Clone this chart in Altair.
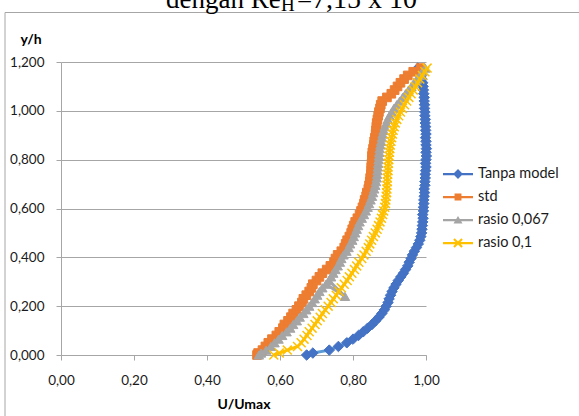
import altair as alt
import pandas as pd

# ---------------- data ----------------
series_names = ["Tanpa model", "std", "rasio 0,067", "rasio 0,1"]

y_grid = [0.000, 0.008, 0.020, 0.035, 0.050, 0.065, 0.080, 0.095, 0.110, 0.125,
          0.140, 0.155, 0.170, 0.185, 0.200, 0.215, 0.230, 0.245, 0.260, 0.275,
          0.290, 0.305, 0.320, 0.335, 0.350, 0.365, 0.380, 0.395, 0.410, 0.425,
          0.440, 0.455, 0.470, 0.485, 0.500, 0.515, 0.530, 0.545, 0.560, 0.575,
          0.590, 0.605, 0.620, 0.635, 0.650, 0.665, 0.680, 0.695, 0.710, 0.725,
          0.740, 0.755, 0.770, 0.785, 0.800, 0.815, 0.830, 0.845, 0.860, 0.875,
          0.890, 0.905, 0.920, 0.935, 0.950, 0.965, 0.980, 0.995, 1.010, 1.025,
          1.040, 1.055, 1.070, 1.085, 1.100, 1.115, 1.130, 1.145, 1.160, 1.175]

tanpa_x = [0.673, 0.690, 0.735, 0.760, 0.783, 0.800, 0.815, 0.828, 0.840, 0.852,
           0.862, 0.871, 0.879, 0.886, 0.891, 0.896, 0.899, 0.903, 0.907, 0.912,
           0.918, 0.924, 0.931, 0.938, 0.944, 0.950, 0.954, 0.959, 0.963, 0.968,
           0.974, 0.979, 0.983, 0.986, 0.988, 0.989, 0.990, 0.991, 0.992, 0.991,
           0.993, 0.993, 0.994, 0.994, 0.995, 0.996, 0.995, 0.997, 0.997, 0.998,
           0.998, 0.999, 1.000, 0.999, 1.000, 1.001, 1.000, 1.001, 1.000, 1.000,
           0.999, 1.000, 0.999, 0.999, 0.998, 0.998, 0.997, 0.997, 0.996, 0.996,
           0.995, 0.995, 0.994, 0.993, 0.992, 0.991, 0.989, 0.987, 0.984, 0.978]

std_x = [0.537, 0.540, 0.552, 0.560, 0.568, 0.578, 0.590, 0.598, 0.608, 0.612,
         0.622, 0.630, 0.636, 0.645, 0.652, 0.660, 0.664, 0.672, 0.680, 0.686,
         0.690, 0.700, 0.708, 0.716, 0.728, 0.738, 0.748, 0.752, 0.758, 0.768,
         0.776, 0.780, 0.784, 0.790, 0.795, 0.798, 0.802, 0.806, 0.812, 0.818,
         0.822, 0.826, 0.830, 0.832, 0.836, 0.838, 0.842, 0.844, 0.846, 0.847,
         0.849, 0.850, 0.850, 0.851, 0.852, 0.852, 0.853, 0.855, 0.857, 0.858,
         0.860, 0.862, 0.863, 0.864, 0.865, 0.867, 0.869, 0.871, 0.874, 0.876,
         0.880, 0.893, 0.905, 0.914, 0.922, 0.930, 0.940, 0.950, 0.965, 0.985]

r067_y = [0.000, 0.008, 0.020, 0.035, 0.050, 0.065, 0.080, 0.095, 0.110, 0.125,
          0.140, 0.155, 0.170, 0.185, 0.200, 0.215, 0.230, 0.245, 0.260, 0.275,
          0.290, 0.240, 0.305, 0.320, 0.335, 0.350, 0.365, 0.380, 0.395, 0.410,
          0.425, 0.440, 0.455, 0.470, 0.485, 0.500, 0.515, 0.530, 0.545, 0.560,
          0.575, 0.590, 0.605, 0.620, 0.635, 0.650, 0.665, 0.680, 0.695, 0.710,
          0.725, 0.740, 0.755, 0.770, 0.785, 0.800, 0.815, 0.830, 0.845, 0.860,
          0.875, 0.890, 0.905, 0.920, 0.935, 0.950, 0.965, 0.980, 0.995, 1.010,
          1.025, 1.040, 1.055, 1.070, 1.085, 1.100, 1.115, 1.130, 1.145, 1.160,
          1.175]

r067_x = [0.542, 0.548, 0.562, 0.575, 0.585, 0.596, 0.606, 0.618, 0.628, 0.636,
          0.646, 0.654, 0.664, 0.672, 0.680, 0.688, 0.695, 0.702, 0.708, 0.716,
          0.726, 0.778, 0.734, 0.740, 0.746, 0.752, 0.758, 0.764, 0.768, 0.774,
          0.782, 0.788, 0.792, 0.798, 0.802, 0.806, 0.810, 0.814, 0.818, 0.824,
          0.830, 0.835, 0.840, 0.844, 0.848, 0.852, 0.855, 0.858, 0.861, 0.863,
          0.865, 0.866, 0.867, 0.868, 0.869, 0.870, 0.871, 0.872, 0.873, 0.875,
          0.877, 0.879, 0.881, 0.884, 0.887, 0.891, 0.895, 0.900, 0.906, 0.912,
          0.920, 0.928, 0.936, 0.944, 0.952, 0.960, 0.967, 0.975, 0.983, 0.990,
          0.998]

r01_x = [0.583, 0.598, 0.620, 0.648, 0.658, 0.666, 0.674, 0.680, 0.688, 0.696,
         0.702, 0.710, 0.716, 0.724, 0.732, 0.740, 0.746, 0.754, 0.762, 0.768,
         0.776, 0.784, 0.790, 0.797, 0.804, 0.810, 0.816, 0.824, 0.830, 0.836,
         0.842, 0.846, 0.851, 0.856, 0.861, 0.866, 0.870, 0.874, 0.878, 0.881,
         0.884, 0.887, 0.889, 0.890, 0.891, 0.892, 0.893, 0.893, 0.894, 0.894,
         0.895, 0.896, 0.896, 0.897, 0.898, 0.899, 0.900, 0.901, 0.902, 0.904,
         0.906, 0.908, 0.910, 0.913, 0.916, 0.920, 0.925, 0.930, 0.935, 0.941,
         0.947, 0.953, 0.959, 0.965, 0.971, 0.977, 0.983, 0.990, 0.997, 1.003]

x_ticks = [0.0, 0.2, 0.4, 0.6, 0.8, 1.0]
y_ticks = [0.0, 0.2, 0.4, 0.6, 0.8, 1.0, 1.2]

# ---------------- styling ----------------
FONT = "Lato"
GRID = "#A6A6A6"
line_colors = ["#5B9BD5", "#ED7D31", "#A5A5A5", "#FFC000"]
marker_colors = ["#4472C4", "#ED7D31", "#A5A5A5", "#FFC000"]

CROSS = "M-1,-1L1,1M-1,1L1,-1"

legend_paths = [
    "M-1,-0.075H1V0.075H-1Z M0,-0.33L0.33,0L0,0.33L-0.33,0Z",
    "M-1,-0.075H1V0.075H-1Z M-0.23,-0.23H0.23V0.23H-0.23Z",
    "M-1,-0.075H1V0.075H-1Z M0,-0.27L0.3,0.24L-0.3,0.24Z",
    "M-1,-0.075H1V0.075H-1Z M-0.22,-0.32L0.32,0.22L0.22,0.32L-0.32,-0.22Z "
    "M0.22,-0.32L0.32,-0.22L-0.22,0.32L-0.32,0.22Z",
]

xscale = alt.Scale(domain=[0, 1], nice=False, zero=False)
yscale = alt.Scale(domain=[0, 1.2], nice=False, zero=False)

xaxis = alt.Axis(
    values=x_ticks, labelExpr="replace(format(datum.value, '.2f'), '.', ',')",
    title="U/Umax", titleFont=FONT, titleFontWeight="bold", titleFontSize=14,
    titleColor="#000000", titleY=53, titleBaseline="alphabetic",
    labelFont=FONT, labelFontSize=13.5, labelColor="#1a1a1a", labelPadding=13,
    tickSize=5, tickColor=GRID, domainColor=GRID, grid=False,
    labelFlush=False, labelOverlap=False,
)
yaxis = alt.Axis(
    values=y_ticks, labelExpr="replace(format(datum.value, '.3f'), '.', ',')",
    title="y/h", titleFont=FONT, titleFontWeight="bold", titleFontSize=14,
    titleColor="#000000", titleAngle=0, titleX=-41, titleY=-19,
    titleAlign="left", titleBaseline="alphabetic",
    labelFont=FONT, labelFontSize=13.5, labelColor="#1a1a1a", labelPadding=12,
    tickSize=5, tickColor=GRID, domainColor=GRID,
    grid=True, gridColor=GRID, gridWidth=1, labelOverlap=False,
)


def series_layers(xs, ys, lcolor, mcolor, shape, size):
    df = pd.DataFrame({"x": xs, "y": ys, "i": list(range(len(xs)))})
    base = alt.Chart(df).encode(
        x=alt.X("x:Q", scale=xscale, axis=xaxis),
        y=alt.Y("y:Q", scale=yscale, axis=yaxis),
        order=alt.Order("i:Q"),
    )
    line = base.mark_line(color=lcolor, strokeWidth=3)
    if shape == CROSS:
        pts = base.mark_point(shape=shape, filled=False, stroke=mcolor,
                              strokeWidth=1.5, size=size, opacity=1)
    else:
        pts = base.mark_point(shape=shape, filled=True, fill=mcolor, stroke=mcolor,
                              strokeWidth=1, size=size, opacity=1)
    return [line, pts]


layers = []
layers += series_layers(tanpa_x, y_grid, line_colors[0], marker_colors[0], "diamond", 110)
layers += series_layers(std_x, y_grid, line_colors[1], marker_colors[1], "square", 75)
layers += series_layers(r067_x, r067_y, line_colors[2], marker_colors[2], "triangle-up", 90)
layers += series_layers(r01_x, y_grid, line_colors[3], marker_colors[3], CROSS, 80)

# legend (from an empty layer with explicit scale domains)
leg_df = pd.DataFrame({"series": series_names, "x": [0.5] * 4, "y": [0.5] * 4})
leg = alt.Legend(
    title=None, orient="none", legendX=381, legendY=96, padding=0,
    symbolSize=900, rowPadding=0, labelOffset=4, labelFont=FONT,
    labelFontSize=14.5, labelColor="#1a1a1a", labelLimit=200,
)
legend_layer = alt.Chart(leg_df).transform_filter("false").mark_point(
    filled=True, opacity=1
).encode(
    x=alt.X("x:Q", scale=xscale, axis=xaxis),
    y=alt.Y("y:Q", scale=yscale, axis=yaxis),
    color=alt.Color("series:N", scale=alt.Scale(domain=series_names, range=marker_colors),
                    legend=leg, sort=series_names),
    shape=alt.Shape("series:N", scale=alt.Scale(domain=series_names, range=legend_paths),
                    legend=leg, sort=series_names),
)
layers.append(legend_layer)

# chart-area frame and the clipped title above it
one = pd.DataFrame({"k": [0]})
frame = alt.Chart(one).mark_rect(filled=False, stroke=GRID, strokeWidth=1).encode(
    x=alt.value(-56), x2=alt.value(700), y=alt.value(-49.5), y2=alt.value(600)
)
SERIF = "Liberation Serif"
t1 = alt.Chart(one).mark_text(text="dengan Re", font=SERIF, fontSize=27,
                              align="left", baseline="alphabetic", color="#000000").encode(
    x=alt.value(105), y=alt.value(-54))
t2 = alt.Chart(one).mark_text(text="H", font=SERIF, fontSize=19,
                              align="left", baseline="alphabetic", color="#000000").encode(
    x=alt.value(220), y=alt.value(-51))
t3 = alt.Chart(one).mark_text(text="=", font=SERIF, fontSize=27,
                              align="left", baseline="alphabetic", color="#000000").encode(
    x=alt.value(236), y=alt.value(-54))
t4 = alt.Chart(one).mark_text(text="7,15 x 10", font=SERIF, fontSize=28,
                              align="left", baseline="alphabetic", color="#000000").encode(
    x=alt.value(251), y=alt.value(-54))
layers = [frame, t1, t2, t3, t4] + layers

chart = alt.layer(*layers).properties(
    width=365, height=293,
    autosize=alt.AutoSizeParams(type="none"),
    padding={"left": 61, "top": 62, "right": 153, "bottom": 61},
    background="white",
).configure_view(stroke=None)

chart.save("out.html", embed_options={"renderer": "svg", "actions": False})
